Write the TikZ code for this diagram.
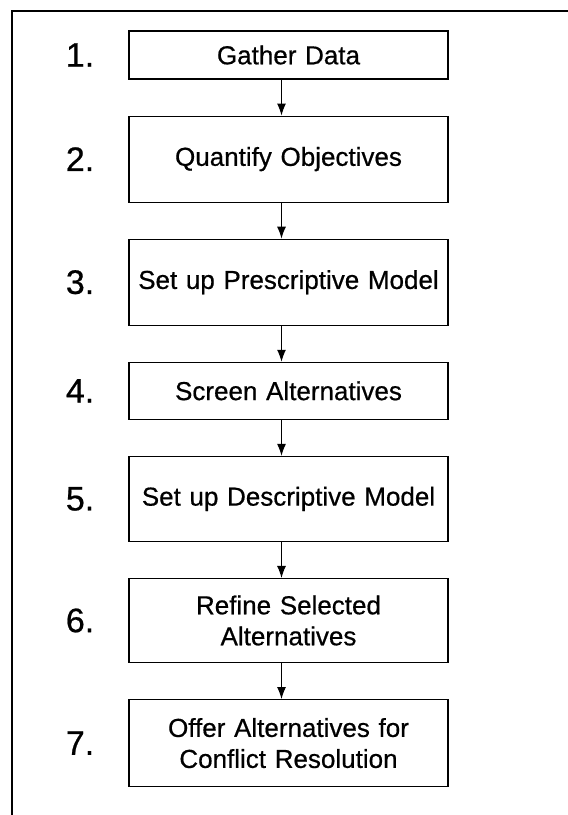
\documentclass[tikz,border=0pt]{standalone}
\usepackage{fontspec}
\setmainfont{Liberation Sans}
\newfontfamily\scanfont[FakeBold=0.6]{Liberation Sans}
\usetikzlibrary{positioning, arrows.meta}

\begin{document}
\begin{tikzpicture}[x=1pt, y=-1pt, node distance=36pt,
  stepbox/.style={draw, rectangle, line width=1.1pt, align=center, text width=309pt, inner xsep=5pt, font=\scanfont\fontsize{26}{31}\selectfont},
  numlabel/.style={inner sep=0pt, anchor=east, font=\scanfont\fontsize{34}{40}\selectfont},
  flow/.style={-{Latex[length=12pt, width=9pt]}, line width=1.1pt}]

\useasboundingbox (0,0) rectangle (568,815);
\clip (0,0) rectangle (568,815);

% Frame
\draw[line width=1.2pt] (12,11) rectangle (590,840);

% Steps
\node (gather) [stepbox, minimum height=48pt] at (288.5,55) {Gather Data};
\node (quantify) [stepbox, minimum height=86pt, below=of gather] {Quantify Objectives};
\node (prescriptive) [stepbox, minimum height=86pt, below=of quantify] {Set up Prescriptive Model};
\node (screen) [stepbox, minimum height=57pt, below=of prescriptive] {Screen Alternatives};
\node (descriptive) [stepbox, minimum height=85pt, below=of screen] {Set up Descriptive Model};
\node (refine) [stepbox, minimum height=84pt, below=of descriptive] {Refine Selected\\Alternatives};
\node (offer) [stepbox, minimum height=87pt, below=of refine] {Offer Alternatives for\\Conflict Resolution};

% Numbers
\node (num1) [numlabel, left=34pt of gather] {1.};
\node (num2) [numlabel, left=34pt of quantify] {2.};
\node (num3) [numlabel, left=34pt of prescriptive] {3.};
\node (num4) [numlabel, left=34pt of screen] {4.};
\node (num5) [numlabel, left=34pt of descriptive] {5.};
\node (num6) [numlabel, left=34pt of refine] {6.};
\node (num7) [numlabel, left=34pt of offer] {7.};

% Arrows
\draw[flow] ([xshift=-7pt]gather.south) -- ([xshift=-7pt]quantify.north);
\draw[flow] ([xshift=-7pt]quantify.south) -- ([xshift=-7pt]prescriptive.north);
\draw[flow] ([xshift=-7pt]prescriptive.south) -- ([xshift=-7pt]screen.north);
\draw[flow] ([xshift=-7pt]screen.south) -- ([xshift=-7pt]descriptive.north);
\draw[flow] ([xshift=-7pt]descriptive.south) -- ([xshift=-7pt]refine.north);
\draw[flow] ([xshift=-7pt]refine.south) -- ([xshift=-7pt]offer.north);

\end{tikzpicture}
\end{document}
